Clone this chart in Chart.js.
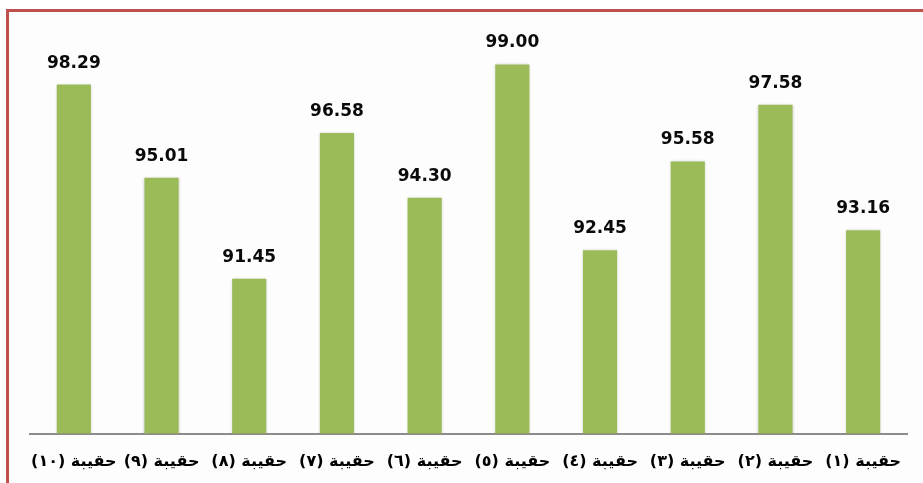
<!DOCTYPE html>
<html>
<head>
<meta charset="utf-8">
<script src="https://cdn.jsdelivr.net/npm/chart.js@4/dist/chart.umd.min.js"></script>
<style>
  html, body { margin: 0; padding: 0; background: #ffffff; }
  #wrap { position: relative; width: 923px; height: 483px; overflow: hidden; background: #ffffff; }
  #frame { position: absolute; left: 6px; top: 9px; width: 940px; height: 500px;
           border-left: 3px solid #C0504D; border-top: 3px solid #C0504D; background: #fdfdfd; }
  canvas { position: absolute; left: 0; top: 0; direction: rtl; }
</style>
</head>
<body>
<div id="wrap">
  <div id="frame"></div>
  <canvas id="c" width="923" height="483" dir="rtl"></canvas>
</div>
<script>
// Categories in logical order (drawn right-to-left: (1) at the right)
const categories = ['حقيبة (١)', 'حقيبة (٢)', 'حقيبة (٣)', 'حقيبة (٤)', 'حقيبة (٥)',
                    'حقيبة (٦)', 'حقيبة (٧)', 'حقيبة (٨)', 'حقيبة (٩)', 'حقيبة (١٠)'];
const values = [93.16, 97.58, 95.58, 92.45, 99.00, 94.30, 96.58, 91.45, 95.01, 98.29];
const yMin = 86;
const yMax = 100;

const shadowPlugin = {
  id: 'barShadow',
  beforeDatasetsDraw(chart) {
    const ctx = chart.ctx;
    ctx.save();
    ctx.shadowColor = 'rgba(0,0,0,0.22)';
    ctx.shadowBlur = 3;
    ctx.shadowOffsetX = 0;
    ctx.shadowOffsetY = 0;
  },
  afterDatasetsDraw(chart) {
    chart.ctx.restore();
  }
};

const valueLabels = {
  id: 'valueLabels',
  afterDatasetsDraw(chart) {
    const ctx = chart.ctx;
    const meta = chart.getDatasetMeta(0);
    ctx.save();
    ctx.shadowColor = 'transparent';
    ctx.font = 'bold 17px "DejaVu Sans"';
    ctx.fillStyle = '#0a0a0a';
    ctx.textAlign = 'center';
    ctx.textBaseline = 'alphabetic';
    meta.data.forEach((bar, i) => {
      ctx.fillText(values[i].toFixed(2), bar.x, bar.y - 17);
    });
    ctx.restore();
  }
};

new Chart(document.getElementById('c'), {
  type: 'bar',
  data: {
    labels: categories,
    datasets: [{
      data: values,
      backgroundColor: '#9BBB59',
      borderWidth: 0,
      barPercentage: 0.39,
      categoryPercentage: 1.0
    }]
  },
  options: {
    responsive: false,
    animation: false,
    layout: { padding: { left: 30, right: 16, top: 36, bottom: 0 } },
    plugins: { legend: { display: false }, tooltip: { enabled: false } },
    scales: {
      x: {
        reverse: true,
        grid: { display: false, drawTicks: false },
        border: { display: true, color: '#8c8c8c', width: 2 },
        ticks: {
          color: '#000000',
          font: { family: '"DejaVu Sans"', size: 16, weight: 'bold' },
          padding: 19,
          maxRotation: 0,
          autoSkip: false
        },
        afterFit(scale) { scale.height = 49.5; }
      },
      y: {
        display: false,
        min: yMin,
        max: yMax
      }
    }
  },
  plugins: [shadowPlugin, valueLabels]
});
</script>
</body>
</html>
